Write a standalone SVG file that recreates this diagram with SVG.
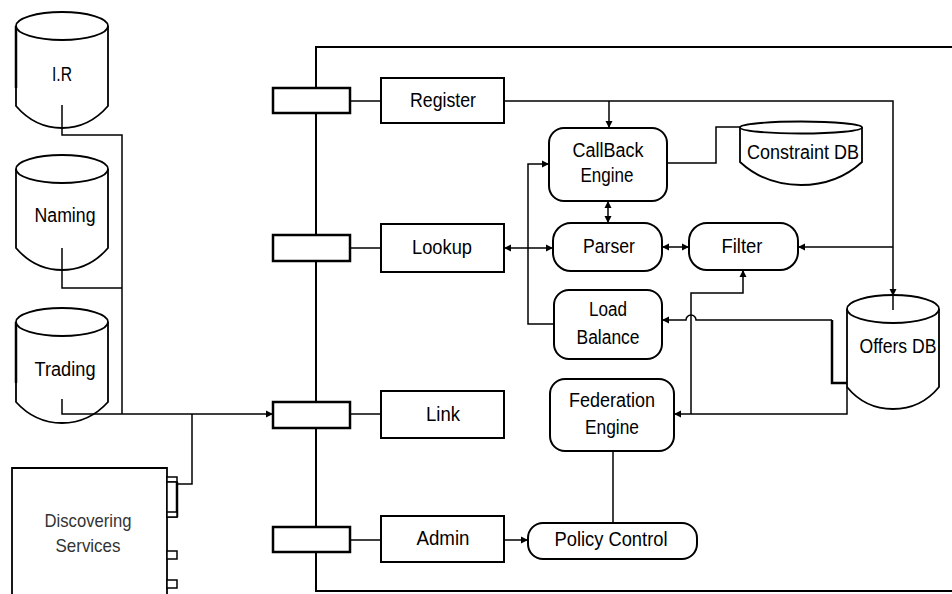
<svg xmlns="http://www.w3.org/2000/svg" width="952" height="594" viewBox="0 0 952 594">
<style>
.t{font-family:"Liberation Sans",Arial,sans-serif;font-size:20px;text-anchor:middle;fill:#000}
.d{font-family:"Liberation Sans",Arial,sans-serif;font-size:19px;text-anchor:middle;fill:#333}
.box{fill:#fff;stroke:#000;stroke-width:2}
.port{fill:#fff;stroke:#000;stroke-width:2.5}
.rr{fill:#fff;stroke:#000;stroke-width:2}
.db{fill:#fff;stroke:#000;stroke-width:1.8}
.c{fill:none;stroke:#000;stroke-width:1.5}
.ca{fill:none;stroke:#000;stroke-width:1.5;marker-end:url(#ah)}
.cb{fill:none;stroke:#000;stroke-width:1.5;marker-end:url(#ah);marker-start:url(#ahs)}
.fr{fill:none;stroke:#000;stroke-width:2}
</style>
<defs>
<marker id="ah" viewBox="0 0 8 8" refX="8" refY="4" markerWidth="7" markerHeight="8" markerUnits="userSpaceOnUse" orient="auto"><path d="M0,0 L8,4 L0,8 z" fill="#000"/></marker>
<marker id="ahs" viewBox="0 0 8 8" refX="8" refY="4" markerWidth="7" markerHeight="8" markerUnits="userSpaceOnUse" orient="auto-start-reverse"><path d="M0,0 L8,4 L0,8 z" fill="#000"/></marker>
</defs>
<rect width="952" height="594" fill="#fff"/>

<g id="frame">
<path class="fr" d="M952,47 H316 V591 H952"/>
</g>

<g id="ir">
<path class="db" d="M16,26 V106 Q35,128 62,128 Q89,128 108,106 V26"/>
<line x1="16" y1="26" x2="16" y2="88" stroke="#000" stroke-width="2.5"/>
<ellipse class="db" cx="62" cy="26" rx="46" ry="14"/>
<text class="t" x="62" y="81" textLength="20" lengthAdjust="spacingAndGlyphs">I.R</text>
</g>
<g id="naming">
<path class="db" d="M16,169 V248 Q35,270 62,270 Q89,270 108,248 V169"/>
<ellipse class="db" cx="62" cy="169" rx="46" ry="14"/>
<text class="t" x="65" y="222" textLength="61" lengthAdjust="spacingAndGlyphs">Naming</text>
</g>
<g id="trading">
<path class="db" d="M16,322 V402 Q35,423 62,423 Q89,423 108,402 V322"/>
<line x1="16" y1="322" x2="16" y2="383" stroke="#000" stroke-width="2.5"/>
<ellipse class="db" cx="62" cy="322" rx="46" ry="14"/>
<text class="t" x="65" y="376" textLength="61" lengthAdjust="spacingAndGlyphs">Trading</text>
</g>

<g id="discovering">
<path d="M12,600 V468 H167 V600" fill="#fff" stroke="#000" stroke-width="1.8"/>
<rect x="167" y="477" width="10" height="5" fill="#fff" stroke="#000" stroke-width="1.5"/>
<rect x="167" y="482" width="10" height="35" fill="#fff" stroke="#000" stroke-width="1.5"/>
<line x1="177" y1="482" x2="177" y2="517" stroke="#000" stroke-width="2.5"/>
<rect x="167" y="512" width="10" height="5" fill="#fff" stroke="#000" stroke-width="1.5"/>
<rect x="167" y="551" width="10" height="8" fill="#fff" stroke="#000" stroke-width="1.5"/>
<rect x="167" y="580" width="10" height="8" fill="#fff" stroke="#000" stroke-width="1.5"/>
<text class="d" x="88" y="527" textLength="87" lengthAdjust="spacingAndGlyphs">Discovering</text>
<text class="d" x="88" y="552" textLength="65" lengthAdjust="spacingAndGlyphs">Services</text>
</g>

<g id="port-register"><rect class="port" x="273" y="88" width="77" height="25"/></g>
<g id="port-lookup"><rect class="port" x="273" y="235" width="77" height="26"/></g>
<g id="port-link"><rect class="port" x="273" y="402" width="77" height="26"/></g>
<g id="port-admin"><rect class="port" x="273" y="527" width="77" height="25"/></g>

<g id="register"><rect class="box" x="381" y="78" width="123" height="45"/>
<text class="t" x="443" y="107" textLength="66" lengthAdjust="spacingAndGlyphs">Register</text></g>
<g id="lookup"><rect class="box" x="381" y="224" width="123" height="48"/>
<text class="t" x="442" y="254" textLength="60" lengthAdjust="spacingAndGlyphs">Lookup</text></g>
<g id="link"><rect class="box" x="381" y="391" width="123" height="47"/>
<text class="t" x="443" y="421" textLength="34" lengthAdjust="spacingAndGlyphs">Link</text></g>
<g id="admin"><rect class="box" x="381" y="516" width="123" height="46"/>
<text class="t" x="443" y="545" textLength="53" lengthAdjust="spacingAndGlyphs">Admin</text></g>

<g id="callback"><rect class="rr" x="549" y="128" width="118" height="73" rx="15"/>
<text class="t" x="608" y="157" textLength="71" lengthAdjust="spacingAndGlyphs">CallBack</text>
<text class="t" x="607" y="182" textLength="53" lengthAdjust="spacingAndGlyphs">Engine</text></g>
<g id="parser"><rect class="rr" x="553" y="223" width="109" height="48" rx="18"/>
<text class="t" x="609" y="253" textLength="52" lengthAdjust="spacingAndGlyphs">Parser</text></g>
<g id="filter"><rect class="rr" x="689" y="223" width="109" height="47" rx="18"/>
<text class="t" x="742" y="253" textLength="41" lengthAdjust="spacingAndGlyphs">Filter</text></g>
<g id="loadbalance"><rect class="rr" x="554" y="290" width="108" height="69" rx="15"/>
<text class="t" x="608" y="316" textLength="38" lengthAdjust="spacingAndGlyphs">Load</text>
<text class="t" x="608" y="344" textLength="63" lengthAdjust="spacingAndGlyphs">Balance</text></g>
<g id="federation"><rect class="rr" x="550" y="379" width="124" height="72" rx="15"/>
<text class="t" x="612" y="407" textLength="86" lengthAdjust="spacingAndGlyphs">Federation</text>
<text class="t" x="612" y="434" textLength="54" lengthAdjust="spacingAndGlyphs">Engine</text></g>
<g id="policy"><rect class="rr" x="528" y="523" width="169" height="36" rx="15"/>
<text class="t" x="611" y="546" textLength="113" lengthAdjust="spacingAndGlyphs">Policy Control</text></g>

<g id="constraintdb">
<path class="db" d="M740,127 V162 Q765,185 801,185 Q837,185 862,162 V127"/>
<ellipse class="db" cx="801" cy="127.5" rx="61" ry="6"/>
<text class="t" x="803" y="159" textLength="112" lengthAdjust="spacingAndGlyphs">Constraint DB</text>
</g>
<g id="offersdb">
<path class="db" d="M847,309 V387 Q865,409 893,409 Q921,409 939,387 V309"/>
<ellipse class="db" cx="893" cy="309" rx="46" ry="14"/>
<text class="t" x="898" y="353" textLength="77" lengthAdjust="spacingAndGlyphs">Offers DB</text>
</g>

<g id="connectors">
<path class="c" d="M62,105 V135 H122 V414"/>
<path class="c" d="M62,248 V288 H122"/>
<path class="ca" d="M62,399 V414 H273"/>
<path class="c" d="M192,414 V484 H177"/>
<path class="c" d="M350,101 H381"/>
<path class="c" d="M350,248 H381"/>
<path class="c" d="M350,414 H381"/>
<path class="c" d="M350,540 H381"/>
<path class="ca" d="M504,101 H893 V296"/>
<path class="c" d="M893,296 V310"/>
<path class="ca" d="M609,101 V128"/>
<path class="c" d="M667,163 H716 V127 H740"/>
<path class="ca" d="M554,324 H528 V164 H549"/>
<path class="cb" d="M504,248 H553"/>
<path class="cb" d="M608,201 V223"/>
<path class="cb" d="M662,247 H689"/>
<path class="ca" d="M893,247 H798"/>
<path class="c" d="M847,383 H832 V320" style="stroke-width:2.5"/>
<path class="ca" d="M832,320 H696 A5,5 0 0 0 686,320 H662"/>
<path class="ca" d="M847,387 V414 H674"/>
<path class="ca" d="M691,414 V293 H743 V270"/>
<path class="c" d="M613,451 V523"/>
<path class="ca" d="M504,540 H528"/>
</g>
</svg>
